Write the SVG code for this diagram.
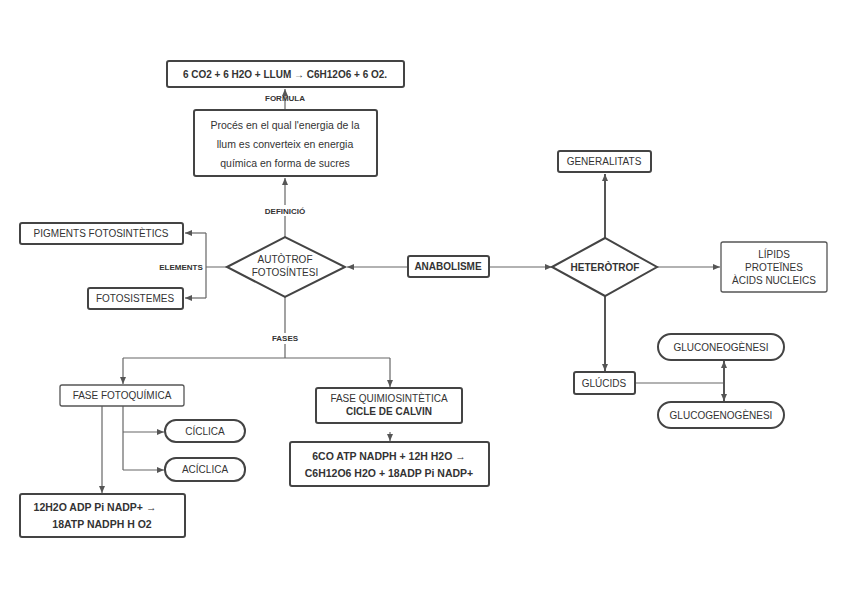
<svg xmlns="http://www.w3.org/2000/svg" width="848" height="599" viewBox="0 0 848 599">
<style>
text{font-family:"Liberation Sans",Arial,sans-serif;font-size:10px;fill:#333;text-anchor:middle}
.b{font-weight:bold}
.s{font-size:8px;font-weight:bold}
.d{font-size:10.5px}
.n{fill:#fff;stroke:#555;stroke-width:1.3}
.t{fill:#fff;stroke:#444;stroke-width:2}
.c{fill:none;stroke:#666;stroke-width:1.2}
.c2{fill:none;stroke:#555;stroke-width:2}
</style>
<defs><marker id="a" markerWidth="8" markerHeight="8" refX="7" refY="4" orient="auto" markerUnits="userSpaceOnUse"><path d="M0,1 L7,4 L0,7Z" fill="#555"/></marker></defs>
<rect width="848" height="599" fill="#fff"/>
<g id="connectors">
<path class="c" d="M285,110 V89" marker-end="url(#a)"/>
<path class="c" d="M285,237 V178" marker-end="url(#a)"/>
<path class="c" d="M227,267 H206 M206,233 V298"/>
<path class="c" d="M206,233 H185" marker-end="url(#a)"/>
<path class="c" d="M206,298 H185" marker-end="url(#a)"/>
<path class="c" d="M408,267 H347" marker-end="url(#a)"/>
<path class="c" d="M489,267 H552" marker-end="url(#a)"/>
<path class="c2" d="M605,238 V174" marker-end="url(#a)"/>
<path class="c" d="M657,267 H720" marker-end="url(#a)"/>
<path class="c2" d="M605,296 V371" marker-end="url(#a)"/>
<path class="c" d="M635,383 H724"/>
<path class="c2" d="M724,383 V361" marker-end="url(#a)"/>
<path class="c2" d="M724,383 V401" marker-end="url(#a)"/>
<path class="c" d="M285,297 V358 M123,358 H390"/>
<path class="c" d="M123,358 V384" marker-end="url(#a)"/>
<path class="c" d="M390,358 V387" marker-end="url(#a)"/>
<path class="c" d="M390,432 V441" marker-end="url(#a)"/>
<path class="c" d="M102,406 V493" marker-end="url(#a)"/>
<path class="c" d="M123,406 V470"/>
<path class="c" d="M123,432 H164" marker-end="url(#a)"/>
<path class="c" d="M123,470 H164" marker-end="url(#a)"/>
<text class="s" x="285" y="101">FORMULA</text>
<rect x="260" y="205" width="50" height="11" fill="#fff"/>
<text class="s" x="285" y="214">DEFINICIÓ</text>
<text class="s" x="181" y="270">ELEMENTS</text>
<rect x="268" y="333" width="34" height="11" fill="#fff"/>
<text class="s" x="285" y="341">FASES</text>
</g>
<g id="formula"><rect class="t" x="167" y="61" width="237" height="26" rx="2"/><text class="b" x="285" y="78">6 CO2 + 6 H2O + LLUM  → C6H12O6 + 6 O2.</text></g>
<g id="definicio"><rect class="t" x="194" y="110" width="183" height="66" rx="2"/><text class="d" x="285" y="129">Procés en el qual l'energia de la</text><text class="d" x="285" y="148">llum es converteix en energia</text><text class="d" x="285" y="167">química en forma de sucres</text></g>
<g id="autotrof"><polygon class="t" points="227,267 285,237 345,267 285,297"/><text x="285" y="263">AUTÒTROF</text><text x="285" y="276">FOTOSÍNTESI</text></g>
<g id="pigments"><rect class="t" x="20" y="223" width="163" height="21" rx="2"/><text x="101" y="237">PIGMENTS FOTOSINTÈTICS</text></g>
<g id="fotosistemes"><rect class="t" x="88" y="288" width="95" height="21" rx="2"/><text x="135" y="302">FOTOSISTEMES</text></g>
<g id="anabolisme"><rect class="t" x="408" y="256" width="81" height="21" rx="2"/><text class="b" x="448" y="270">ANABOLISME</text></g>
<g id="heterotrof"><polygon class="t" points="552,267 605,238 657,267 605,296"/><text class="b" x="605" y="271">HETERÒTROF</text></g>
<g id="generalitats"><rect class="t" x="558" y="151" width="93" height="21" rx="2"/><text x="604" y="165">GENERALITATS</text></g>
<g id="lipids"><rect class="n" x="721" y="242" width="106" height="50" rx="2"/><text x="774" y="258">LÍPIDS</text><text x="774" y="271">PROTEÏNES</text><text x="774" y="284">ÀCIDS NUCLEICS</text></g>
<g id="glucids"><rect class="t" x="574" y="372" width="61" height="22" rx="2"/><text x="604" y="387">GLÚCIDS</text></g>
<g id="gluconeogenesi"><rect class="t" x="658" y="334" width="126" height="26" rx="13"/><text x="721" y="351">GLUCONEOGÈNESI</text></g>
<g id="glucogenogenesi"><rect class="t" x="658" y="402" width="126" height="26" rx="13"/><text x="721" y="419">GLUCOGENOGÈNESI</text></g>
<g id="fotoquimica"><rect class="n" x="60" y="385" width="124" height="21" rx="2"/><text x="122" y="399">FASE FOTOQUÍMICA</text></g>
<g id="quimiosintetica"><rect class="t" x="316" y="388" width="146" height="35" rx="2"/><text x="389" y="402">FASE QUIMIOSINTÈTICA</text><text class="b" x="389" y="415">CICLE DE CALVIN</text></g>
<g id="calvin-eq"><rect class="t" x="290" y="442" width="199" height="44" rx="2"/><text class="b d" x="389" y="460">6CO ATP NADPH + 12H H2O →</text><text class="b d" x="389" y="477">C6H12O6 H2O + 18ADP Pi NADP+</text></g>
<g id="ciclica"><rect class="t" x="165" y="420" width="80" height="22" rx="11"/><text x="205" y="435">CÍCLICA</text></g>
<g id="aciclica"><rect class="t" x="165" y="458" width="80" height="23" rx="11"/><text x="205" y="473">ACÍCLICA</text></g>
<g id="foto-eq"><rect class="t" x="20" y="494" width="165" height="43" rx="2"/><text class="b d" x="95" y="511">12H2O ADP Pi NADP+  →</text><text class="b d" x="102" y="528">18ATP NADPH H O2</text></g>
</svg>
